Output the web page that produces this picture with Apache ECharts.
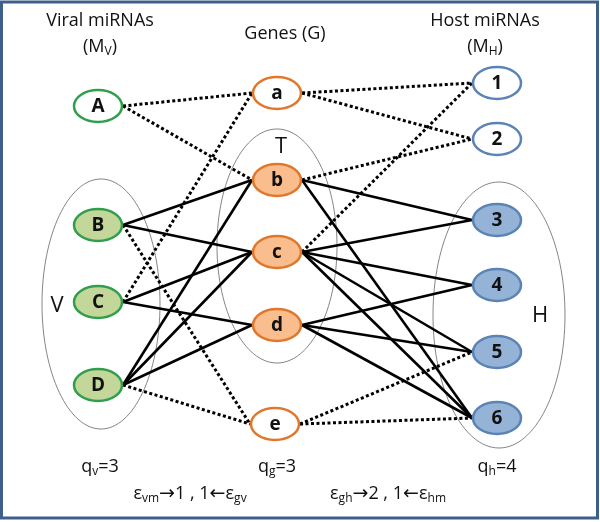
<!DOCTYPE html>
<html><head><meta charset="utf-8">
<script src="https://cdn.jsdelivr.net/npm/echarts@6/dist/echarts.min.js"></script>
<style>html,body{margin:0;padding:0;background:#fff}#c{width:600px;height:522px}</style>
</head><body><div id="c"></div>
<script>
// ---- data ----
const nodeNames  = ['A','B','C','D','a','b','c','d','e','1','2','3','4','5','6'];
const nodeKinds  = ['viral','viral','viral','viral','gene','gene','gene','gene','gene','host','host','host','host','host','host'];
const nodeInSet  = [false,true,true,true,false,true,true,true,false,false,false,true,true,true,true];
const nodeX      = [98,98,98,98,277,277,277,277,275,497,497,497,497,497,497];
const nodeY      = [106,225,302,385,93,180,252,325,424,83,139,220,285,352,418];

const solidEdges  = [['B','b'],['B','c'],['C','c'],['C','d'],['D','b'],['D','c'],['D','d'],
                     ['b','3'],['b','6'],['c','3'],['c','4'],['c','5'],['c','6'],['d','4'],['d','5'],['d','6']];
const dottedEdges = [['A','a'],['A','b'],['C','a'],['B','e'],['D','e'],
                     ['a','1'],['a','2'],['b','2'],['c','1'],['e','5'],['e','6']];

const setNames = ['V','T','H'];
const setCX    = [101,277,499];
const setCY    = [304,246,315];
const setRX    = [59,60,66];
const setRY    = [125,117,133];
const setLabelX = [57,281,540];
const setLabelY = [306,147,316];

const qLabels = ['v','g','h'];
const qValues = [3,3,4];
const qX      = [100,277,497];

// ---- styles ----
const FONT = '"Open Sans", "Liberation Sans", sans-serif';
const NODE_RX = 25, NODE_RY = 17;
const kindStyle = {
  viral: {stroke:'#2f9f4c', fill:'#c4d79b'},
  gene:  {stroke:'#e0772b', fill:'#f9bd8e'},
  host:  {stroke:'#5b84b6', fill:'#95b3d7'}
};
const SUB = {fontSize:12, fontFamily:FONT, verticalAlign:'bottom', lineHeight:13};
const ARR = {fontSize:19, fontFamily:'"DejaVu Sans"', lineHeight:22};

function idx(n){ return nodeNames.indexOf(n); }
function edgeData(list){
  return list.map(function(e){
    let i = idx(e[0]), j = idx(e[1]);
    if (nodeX[i] > nodeX[j]) { const t = i; i = j; j = t; }
    return [nodeX[i] + NODE_RX, nodeY[i], nodeX[j] - NODE_RX, nodeY[j]];
  });
}

function edgeRender(dotted){
  return function(params, api){
    const p1 = api.coord([api.value(0), api.value(1)]);
    const p2 = api.coord([api.value(2), api.value(3)]);
    return {
      type:'line',
      shape:{x1:p1[0], y1:p1[1], x2:p2[0], y2:p2[1]},
      style:{stroke:'#000', lineWidth: dotted ? 3 : 2.6, lineDash: dotted ? [3,2.5] : null, lineCap:'butt'}
    };
  };
}
function txt(x, y, text){
  return {type:'text', x:x, y:y, style:{text:text, font:'18px '+FONT, fill:'#111', align:'center', verticalAlign:'middle',
    rich:{s:SUB, a:ARR}, lineHeight:22}};
}

const chart = echarts.init(document.getElementById('c'), null, {renderer:'canvas'});
chart.setOption({
  animation:false,
  backgroundColor:'#fff',
  grid:{left:0,right:0,top:0,bottom:0},
  xAxis:{type:'value',min:0,max:600,show:false},
  yAxis:{type:'value',min:0,max:522,inverse:true,show:false},
  graphic:[
    {type:'rect', shape:{x:1.5,y:2,width:596,height:516}, style:{fill:null, stroke:'#3f5f8b', lineWidth:3}, z:100},
    txt(100, 21, 'Viral miRNAs'),
    txt(100, 47, '(M{s|V})'),
    txt(285, 34, 'Genes (G)'),
    txt(485, 21, 'Host miRNAs'),
    txt(485, 47, '(M{s|H})'),
    txt(190, 494, 'ε{s|vm}{a|→}1 , 1{a|←}ε{s|gv}'),
    txt(388, 494, 'ε{s|gh}{a|→}2 , 1{a|←}ε{s|hm}')
  ].concat(qLabels.map(function(q,i){ return txt(qX[i], 467, 'q{s|'+q+'}='+qValues[i]); })),
  series:[
    { // set ellipses
      type:'custom', z:1,
      data: setNames.map(function(n,i){ return [setCX[i], setCY[i], setRX[i], setRY[i], setLabelX[i], setLabelY[i], i]; }),
      renderItem:function(params, api){
        const c = api.coord([api.value(0), api.value(1)]);
        const s = api.size([api.value(2), api.value(3)]);
        const l = api.coord([api.value(4), api.value(5)]);
        return {type:'group', children:[
          {type:'ellipse', shape:{cx:c[0], cy:c[1], rx:s[0], ry:s[1]}, style:{fill:null, stroke:'#666', lineWidth:0.8}},
          {type:'text', style:{text:setNames[api.value(6)], x:l[0], y:l[1], fill:'#111', font:'22px '+FONT, align:'center', verticalAlign:'middle'}}
        ]};
      }
    },
    {type:'custom', z:2, data: edgeData(dottedEdges), renderItem: edgeRender(true)},
    {type:'custom', z:3, data: edgeData(solidEdges), renderItem: edgeRender(false)},
    { // nodes
      type:'custom', z:4,
      data: nodeNames.map(function(n,i){ return [nodeX[i], nodeY[i], i]; }),
      renderItem:function(params, api){
        const i = api.value(2);
        const c = api.coord([api.value(0), api.value(1)]);
        const st = kindStyle[nodeKinds[i]];
        return {type:'group', children:[
          {type:'ellipse', shape:{cx:c[0], cy:c[1], rx:NODE_RX-1, ry:NODE_RY-1},
           style:{fill: nodeInSet[i] ? st.fill : '#fff', stroke: st.stroke, lineWidth:2.5}},
          {type:'text', style:{text:nodeNames[i], x:c[0], y:c[1]+1, fill:'#111', font:'bold 19px '+FONT, align:'center', verticalAlign:'middle'}}
        ]};
      }
    }
  ]
});
</script></body></html>
